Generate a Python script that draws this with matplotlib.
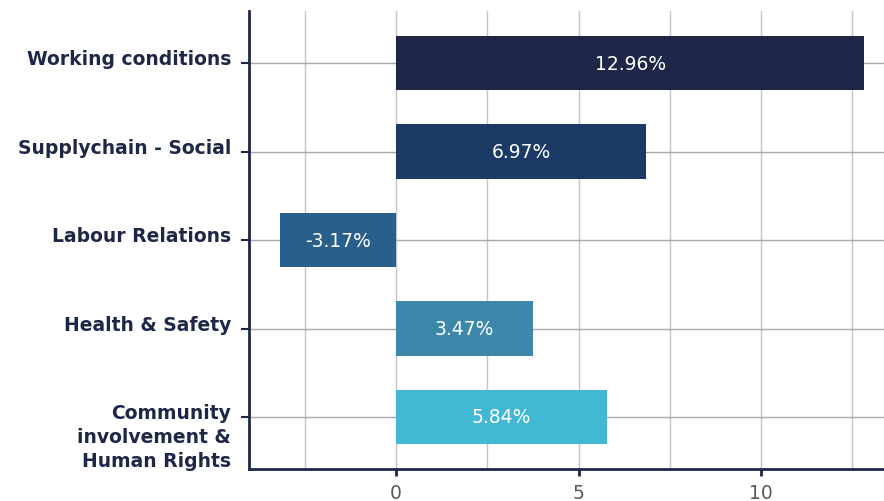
import matplotlib
matplotlib.use("Agg")
import matplotlib.pyplot as plt
import matplotlib.transforms as mtransforms
from matplotlib.ticker import MultipleLocator

categories = ["Working conditions", "Supplychain - Social", "Labour Relations",
              "Health & Safety", "Community\ninvolvement &\nHuman Rights"]
# bar lengths as drawn in the picture (the printed labels differ slightly)
values = [12.83, 6.86, -3.19, 3.75, 5.77]
value_labels = ["12.96%", "6.97%", "-3.17%", "3.47%", "5.84%"]
colors = ["#1f2748", "#1b3b66", "#285f8b", "#3d87ab", "#42b8d5"]
xticks = [0, 5, 10]

navy = "#1f2748"
plt.rcParams['font.family'] = ['DejaVu Sans']

fig = plt.figure(figsize=(8.84, 5.02), dpi=100)
ax = fig.add_axes([0.2817, 0.0637, 0.7183, 0.9124])

pos = list(range(len(categories)))
ax.barh(pos, values, height=0.62, color=colors, zorder=3)

for p, v, lab in zip(pos, values, value_labels):
    ax.text(v / 2, p, lab, ha="center", va="center", color="white",
            fontsize=13.5, zorder=4)

ax.set_xlim(-4.03, 13.37)
ax.set_ylim(4.588, -0.588)

ax.set_xticks(xticks)
ax.xaxis.set_minor_locator(MultipleLocator(2.5))
ax.set_xticklabels([str(t) for t in xticks], color="#5a5a5a", fontsize=13.5)
ax.tick_params(axis="x", which="major", length=5, width=2, color=navy, pad=5)
ax.tick_params(axis="x", which="minor", length=0)
ax.grid(axis="x", which="both", color="#c4c4c4", linewidth=1, zorder=0)
ax.grid(axis="y", color="#a8a8a8", linewidth=1, zorder=0)

ax.set_yticks(pos)
ax.set_yticklabels([])
ax.tick_params(axis="y", length=6, width=1.5, color=navy)

# category labels sit slightly above their tick, top aligned
offset = mtransforms.ScaledTranslation(-18 / 100, 14 / 100, fig.dpi_scale_trans)
trans = mtransforms.blended_transform_factory(ax.transAxes, ax.transData) + offset
for p, cat in zip(pos, categories):
    ax.text(0, p, cat, transform=trans, ha="right", va="top", color=navy,
            fontsize=13.5, fontweight="semibold", linespacing=1.33,
            multialignment="right")

for s in ["top", "right"]:
    ax.spines[s].set_visible(False)
for s in ["left", "bottom"]:
    ax.spines[s].set_color(navy)
    ax.spines[s].set_linewidth(2)
    ax.spines[s].set_zorder(5)

fig.savefig("out.png", dpi=100)
